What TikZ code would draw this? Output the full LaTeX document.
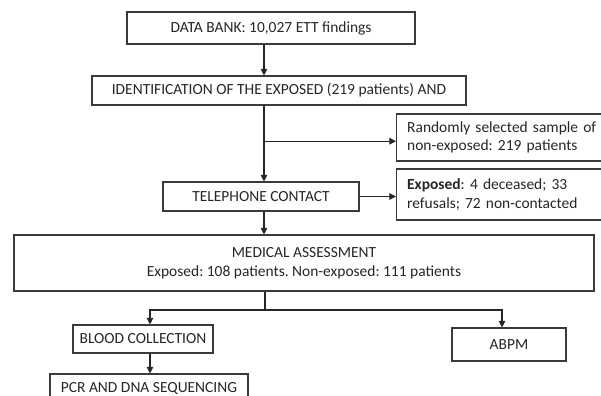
\documentclass[tikz,border=0pt]{standalone}
\usepackage{fontspec}
\setmainfont{Carlito}
\usepackage{tikz}
\usetikzlibrary{arrows.meta,calc}
\definecolor{flink}{HTML}{262626}
\definecolor{flbox}{HTML}{3A3A3A}
\frenchspacing

\begin{document}
\begin{tikzpicture}[
  x=0.75pt, y=-0.75pt,
  font=\fontsize{11.6}{14}\selectfont,
  text=flink,
  stage/.style={draw=flbox, line width=0.8pt, inner sep=0pt, align=center},
  side/.style={draw=flbox, line width=0.8pt, anchor=west, align=left,
    inner xsep=8pt, inner ysep=0pt, text width=170pt},
  arr/.style={-{Triangle[length=5pt,width=5pt]}, line width=0.8pt, draw=flink},
  link/.style={line width=0.8pt, draw=flink},
  ]
  \useasboundingbox (0,0) rectangle (601,396);
  \clip (0,0) rectangle (601,396);

  % Main column.
  \coordinate (spine) at (264,0);
  \node[stage, minimum width=216pt, minimum height=24pt] (bank) at (271,28)
    {DATA BANK: 10,027 ETT findings};
  \node[stage, minimum width=280.5pt, minimum height=21.75pt] (ident) at (279,90.5)
    {IDENTIFICATION OF THE EXPOSED (219 patients) AND};
  \node[stage, minimum width=147pt, minimum height=21.75pt] (tel) at (261,196.5)
    {TELEPHONE CONTACT};
  \node[stage, minimum width=435pt, minimum height=42pt] (med) at (304,263)
    {MEDICAL ASSESSMENT\\Exposed: 108 patients. Non-exposed: 111 patients};

  % Side boxes (run off the right edge).
  \node[side, minimum height=35.25pt] (rand) at (396,137.5)
    {Randomly selected sample of\\non-exposed: 219 patients};
  \node[side, minimum height=38.25pt] (loss) at (396,194.5)
    {\textbf{Exposed}: 4 deceased; 33\\refusals; 72 non-contacted};

  % Lower branches.
  \coordinate (lbr) at (150,0);
  \coordinate (rbr) at (502,0);
  \node[stage, minimum width=105pt, minimum height=21pt] (blood) at (143,339)
    {BLOOD COLLECTION};
  \node[stage, minimum width=85.5pt, minimum height=24.75pt] (abpm) at (509,344.5)
    {ABPM};
  \node[stage, minimum width=148.5pt, minimum height=22.5pt] (pcr) at (149,389)
    {PCR AND DNA SEQUENCING};

  \draw[arr] (bank.south -| spine) -- (ident.north -| spine);
  \draw[arr] (ident.south -| spine) -- (tel.north -| spine);
  \coordinate (fork) at ($(ident.south -| spine)!0.47!(tel.north -| spine)$);
  \draw[arr] (fork) -- (fork -| rand.west);
  \draw[arr] (tel.east) -- (tel.east -| loss.west);
  \draw[arr] (tel.south -| spine) -- (med.north -| spine);

  \coordinate (split) at (265,310);
  \draw[link] (med.south -| split) -- (split);
  \draw[arr] (split) -| (blood.north -| lbr);
  \draw[arr] (split) -| (abpm.north -| rbr);
  \draw[arr] (blood.south -| lbr) -- (pcr.north -| lbr);
\end{tikzpicture}
\end{document}
